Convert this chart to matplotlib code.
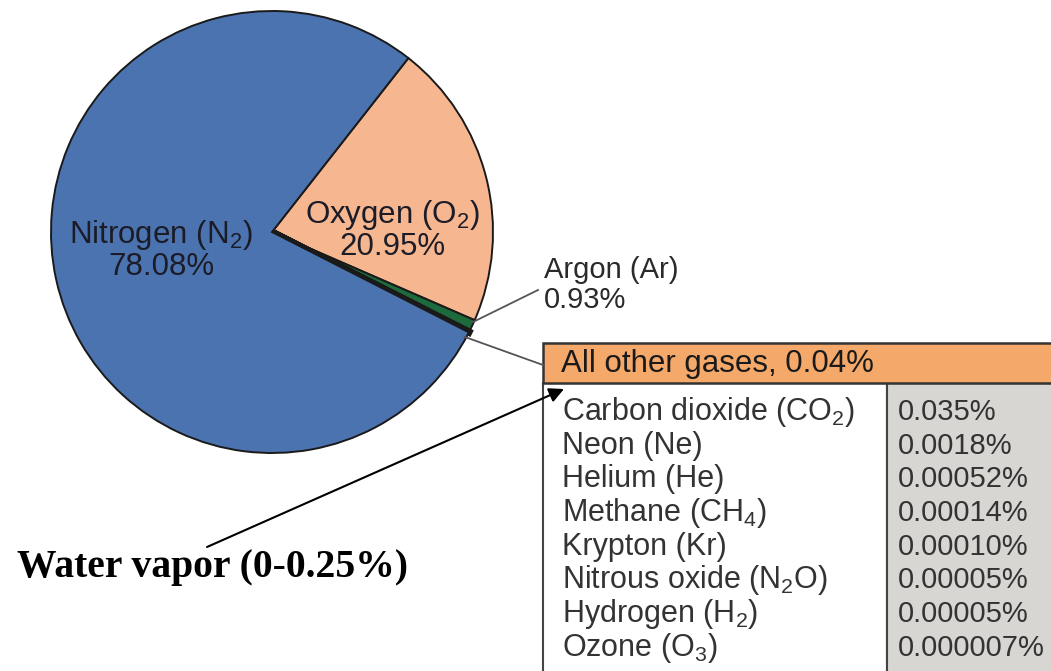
import matplotlib
matplotlib.use('Agg')
import matplotlib.pyplot as plt
from matplotlib.patches import Rectangle

plt.rcParams['font.family'] = ['Liberation Sans', 'DejaVu Sans']
plt.rcParams['mathtext.default'] = 'regular'

# pie slices (clockwise from the top of the oxygen wedge)
gases = ['Oxygen', 'Argon', 'Other', 'Nitrogen']
shares = [20.95, 0.93, 0.04, 78.08]
slice_colors = ['#f6b690', '#1d6b3c', '#111111', '#4b73b0']

# table of the other gases
other_names = ['Carbon dioxide (CO$_2$)', 'Neon (Ne)', 'Helium (He)',
               'Methane (CH$_4$)', 'Krypton (Kr)', 'Nitrous oxide (N$_2$O)',
               'Hydrogen (H$_2$)', 'Ozone (O$_3$)']
other_values = ['0.035%', '0.0018%', '0.00052%', '0.00014%', '0.00010%',
                '0.00005%', '0.00005%', '0.000007%']

W, H = 1051, 671
fig = plt.figure(figsize=(W / 100, H / 100), dpi=100)
ax = fig.add_axes([0, 0, 1, 1])

def Y(y):
    return H - y

cx, cy, r = 272, 232, 221
wedges, _ = ax.pie(shares, colors=slice_colors, startangle=51.9, counterclock=False,
                   center=(cx, Y(cy)), radius=r,
                   wedgeprops=dict(edgecolor='#1a1a1a', linewidth=1.4))
wedges[2].set_linewidth(5)

ax.set_xlim(0, W)
ax.set_ylim(0, H)
ax.set_aspect('equal')
ax.axis('off')

txt = '#1c1c28'
ax.text(161, Y(250), 'Nitrogen (N$_2$)\n78.08%', ha='center', va='center',
        fontsize=22.5, color=txt, linespacing=1.0)
ax.text(392, Y(230), 'Oxygen (O$_2$)\n20.95%', ha='center', va='center',
        fontsize=22.5, color=txt, linespacing=1.0)
ax.text(544, Y(285), 'Argon (Ar)\n0.93%', ha='left', va='center',
        fontsize=21, color='#2a2a2a', linespacing=1.1)

# leader lines
ax.plot([473, 538], [Y(322), Y(290)], color='#555555', lw=1.3)
ax.plot([465, 543], [Y(337), Y(365)], color='#555555', lw=1.3)

# box of other gases
ax.add_patch(Rectangle((543, Y(680)), 887 - 543, 680 - 383, facecolor='white',
                       edgecolor='#444444', lw=1.5))
ax.add_patch(Rectangle((887, Y(680)), 1070 - 887, 680 - 383, facecolor='#d8d6d2',
                       edgecolor='#444444', lw=1.5))
ax.add_patch(Rectangle((543, Y(383)), 1070 - 543, 383 - 343, facecolor='#f4a86a',
                       edgecolor='#333333', lw=1.8))
ax.text(561, Y(364), 'All other gases, 0.04%', ha='left', va='center',
        fontsize=22.5, color='#1a1a1a')

row_y = [412, 446, 479, 513, 547, 580, 614, 648]
for name, val, y in zip(other_names, other_values, row_y):
    ax.text(562, Y(y), name, ha='left', va='center', fontsize=22, color='#333333')
    ax.text(898, Y(y), val, ha='left', va='center', fontsize=21, color='#333333')

# water vapor note
ax.annotate('', xy=(564, Y(389)), xytext=(207, Y(547)),
            arrowprops=dict(arrowstyle='-|>', color='black', lw=1.5,
                            mutation_scale=22, shrinkA=0, shrinkB=0))
ax.text(17, Y(567), 'Water vapor (0-0.25%)', ha='left', va='center',
        fontsize=28.5, fontweight='bold', family=['Liberation Serif'], color='black')

fig.savefig('out.png', dpi=100, facecolor='white')
